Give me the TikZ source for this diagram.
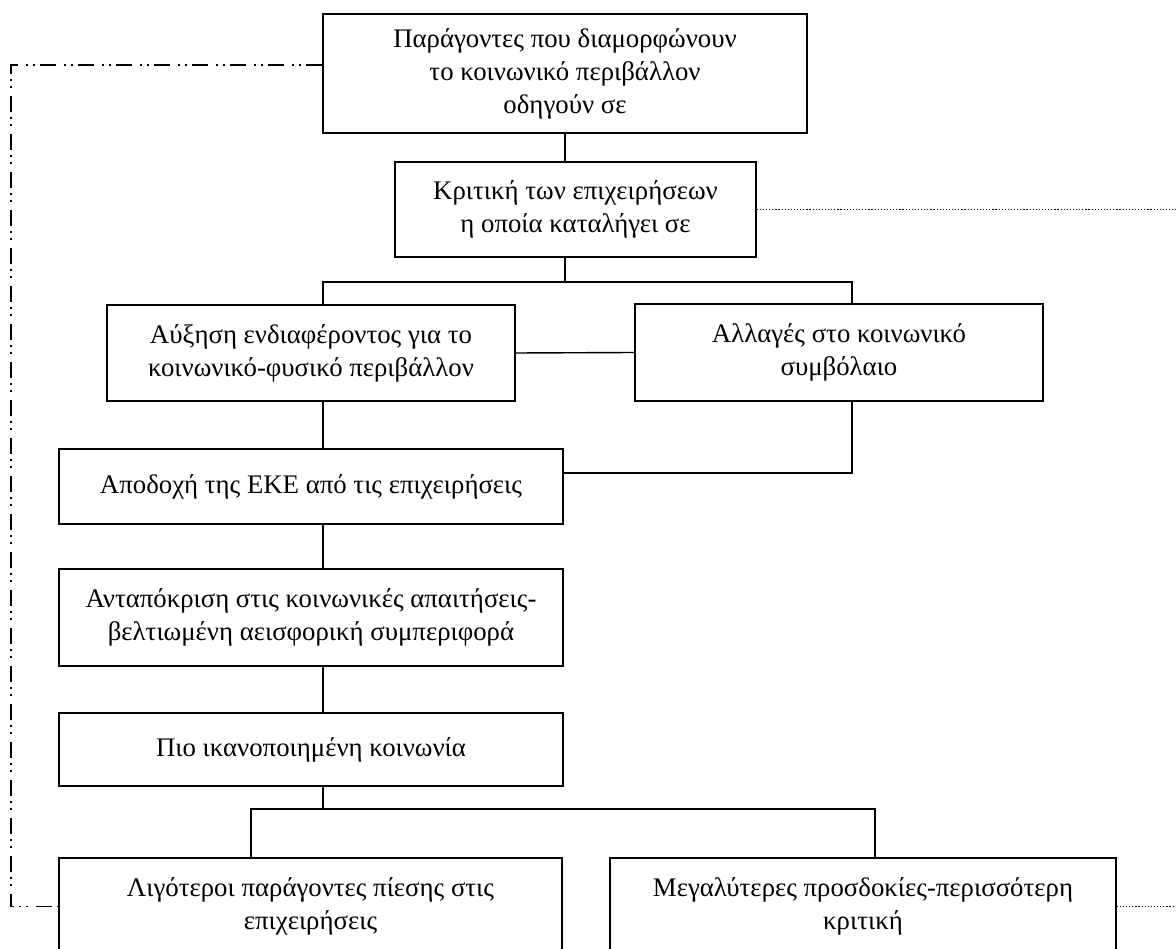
\documentclass[tikz,border=0pt]{standalone}
\usepackage{fontspec}
\setmainfont{Liberation Serif}
\usepackage{tikz}
\usetikzlibrary{calc,positioning}

\begin{document}
\begin{tikzpicture}[x=1pt,y=-1pt,line width=1.4pt,
  blk/.style={draw,inner sep=0pt,align=center,font=\fontsize{26.8}{33}\selectfont},
  fb/.style={line width=1.3pt,dash pattern=on 16pt off 5pt on 2pt off 5pt on 2pt off 8pt},
  crit/.style={line width=1.2pt,dash pattern=on 1.2pt off 1.9pt}]
  \useasboundingbox (0,0) rectangle (1176,949);
  \clip (0,0) rectangle (1176,949);
  % boxes
  \node[blk,minimum width=484,minimum height=119] (par) at (565,73.5)
    {Παράγοντες που διαμορφώνουν\\το κοινωνικό περιβάλλον\\οδηγούν σε};
  \node[blk,minimum width=361,minimum height=95] (krit) at (575.5,209.5)
    {Κριτική των επιχειρήσεων\\η οποία καταλήγει σε};
  \node[blk,minimum width=408,minimum height=96] (afx) at (311,353)
    {Αύξηση ενδιαφέροντος για το\\κοινωνικό-φυσικό περιβάλλον};
  \node[blk,minimum width=408,minimum height=97] (symv) at (839,352.5)
    {Αλλαγές στο κοινωνικό\\συμβόλαιο};
  \node[blk,minimum width=504,minimum height=75] (apod) at (311,486.5)
    {Αποδοχή της ΕΚΕ από τις επιχειρήσεις};
  \node[blk,minimum width=504,minimum height=97] (antap) at (311,617.5)
    {Ανταπόκριση στις κοινωνικές απαιτήσεις-\\βελτιωμένη αεισφορική συμπεριφορά};
  \node[blk,minimum width=504,minimum height=73] (ikan) at (311,749.5)
    {Πιο ικανοποιημένη κοινωνία};
  \node[blk,minimum width=503,minimum height=97] (ligot) at (310.5,906.5)
    {Λιγότεροι παράγοντες πίεσης στις\\επιχειρήσεις};
  \node[blk,minimum width=506,minimum height=97] (megal) at (863,906.5)
    {Μεγαλύτερες προσδοκίες-περισσότερη\\κριτική};
  % junctions and page edges
  \coordinate (j1) at (565,282);
  \coordinate (j2) at (323,809);
  \coordinate (lft) at (11,65);
  \coordinate (rgt) at (1176,0);
  % connectors
  \draw (par.south) -- (par.south |- krit.north);
  \draw (krit.south -| j1) -- (j1);
  \draw ([xshift=12pt]afx.north) |- (j1) -| ([xshift=13pt]symv.north);
  \draw (afx.east) -- (symv.west);
  \draw ([xshift=12pt]afx.south) -- ([xshift=12pt]apod.north);
  \draw ([xshift=13pt]symv.south) |- ([yshift=13.5pt]apod.east);
  \draw ([xshift=12pt]apod.south) -- ([xshift=12pt]antap.north);
  \draw ([xshift=12pt]antap.south) -- ([xshift=12pt]ikan.north);
  \draw ([xshift=12pt]ikan.south) -- (j2);
  \draw ([xshift=-59.5pt]ligot.north) |- (j2) -| ([xshift=12pt]megal.north);
  % feedback lines
  \draw[fb] ([yshift=8.5pt]par.west) -- (lft) |- (ligot.west);
  \draw[crit] (krit.east) -- (krit.east -| rgt);
  \draw[crit] (megal.east) -- (megal.east -| rgt);
\end{tikzpicture}
\end{document}
